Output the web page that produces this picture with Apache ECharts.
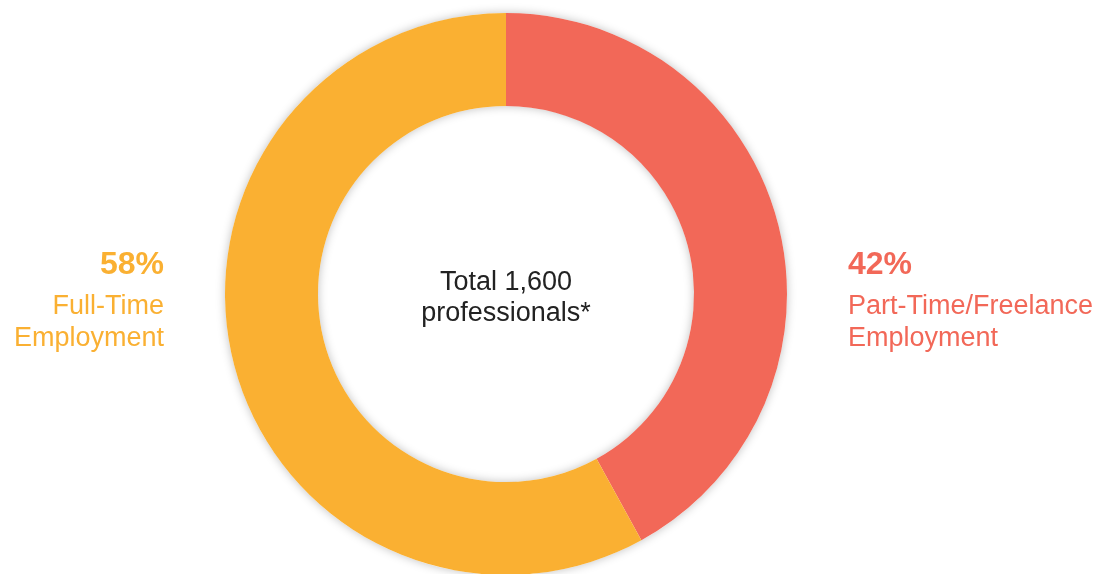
<!DOCTYPE html>
<html>
<head>
<meta charset="utf-8">
<title>Employment donut</title>
<script src="https://cdn.jsdelivr.net/npm/echarts@6/dist/echarts.min.js"></script>
<style>
    html, body { margin: 0; padding: 0; background: #fff; }
    #chart { width: 1107px; height: 574px; }
</style>
</head>
<body>
<div id="chart"></div>
<script>
// data
const categories = ['Part-Time/Freelance\nEmployment', 'Full-Time\nEmployment'];
const shares = [42, 58];
const colors = ['#F26858', '#FAB032'];
const totalLabel = 'Total 1,600\nprofessionals*';

const FONT = '"Liberation Sans", Arial, Helvetica, sans-serif';

const chart = echarts.init(document.getElementById('chart'));

// side labels: index 0 on the right, index 1 on the left
const labelPos = [
    { x: 848, align: 'left' },
    { x: 164, align: 'right' }
];

const graphics = [];
shares.forEach((v, i) => {
    graphics.push({
        type: 'text',
        style: {
            text: v + '%',
            x: labelPos[i].x,
            y: 265,
            fill: colors[i],
            font: 'bold 32px ' + FONT,
            align: labelPos[i].align,
            verticalAlign: 'middle'
        }
    });
    graphics.push({
        type: 'text',
        style: {
            text: categories[i],
            x: labelPos[i].x,
            y: 323,
            fill: colors[i],
            font: '27px ' + FONT,
            lineHeight: 32,
            align: labelPos[i].align,
            verticalAlign: 'middle'
        }
    });
});
graphics.push({
    type: 'text',
    style: {
        text: totalLabel,
        x: 506,
        y: 298,
        fill: '#222222',
        font: '27px ' + FONT,
        lineHeight: 31,
        align: 'center',
        verticalAlign: 'middle'
    }
});

const total = shares.reduce((a, b) => a + b, 0);

const options = {
    animation: false,
    color: colors,
    graphic: graphics,
    series: [
        {
            // soft shadow ring behind the slices
            type: 'pie',
            z: 1,
            center: [506, 294],
            radius: [188, 281],
            silent: true,
            label: { show: false },
            labelLine: { show: false },
            itemStyle: {
                color: '#ffffff',
                shadowBlur: 10,
                shadowColor: 'rgba(0,0,0,0.25)'
            },
            data: [{ value: total, name: 'total' }]
        },
        {
            type: 'pie',
            z: 2,
            center: [506, 294],
            radius: [188, 281],
            startAngle: 90,
            clockwise: true,
            silent: true,
            label: { show: false },
            labelLine: { show: false },
            itemStyle: { borderWidth: 0 },
            data: shares.map((v, i) => ({ value: v, name: categories[i] }))
        }
    ]
};

chart.setOption(options);
</script>
</body>
</html>
